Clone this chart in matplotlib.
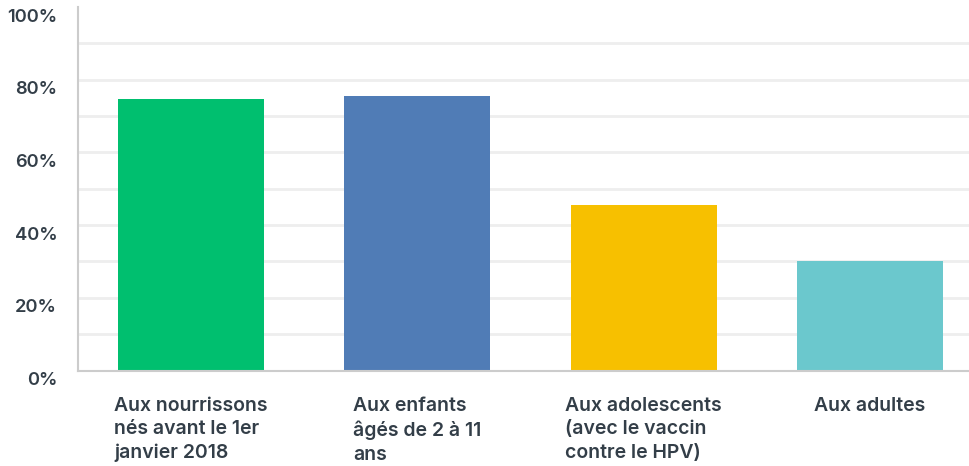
import matplotlib
matplotlib.use("Agg")
import matplotlib.pyplot as plt
from matplotlib.transforms import offset_copy

categories = ["Aux nourrissons\nnés avant le 1er\njanvier 2018",
              "Aux enfants\nâgés de 2 à 11\nans",
              "Aux adolescents\n(avec le vaccin\ncontre le HPV)",
              "Aux adultes"]
values = [74.7, 75.5, 45.5, 30.1]
colors = ["#00bf6f", "#507cb6", "#f7c000", "#6bc8cd"]
yticks = [0, 20, 40, 60, 80, 100]
ytick_labels = ["0%", "20%", "40%", "60%", "80%", "100%"]
grid_levels = [10, 20, 30, 40, 50, 60, 70, 80, 90]

plt.rcParams["font.family"] = ["Inter", "DejaVu Sans"]
text_color = "#333e48"

W, H = 969, 466
fig = plt.figure(figsize=(W/100, H/100), dpi=100)
ax = fig.add_axes([78/W, (H-370.5)/H, (983-78)/W, 363.5/H])

ax.hlines(grid_levels, -0.5, 3.5, color="#eeeeee", lw=2, zorder=0)
ax.bar(range(len(values)), values, width=0.645, color=colors, zorder=2)

ax.set_xlim(-0.5, 3.5)
ax.set_ylim(0, 100)

for s in ["top", "right"]:
    ax.spines[s].set_visible(False)
ax.spines["left"].set_color("#cccccc")
ax.spines["left"].set_linewidth(1.5)
ax.spines["bottom"].set_color("#cccccc")
ax.spines["bottom"].set_linewidth(1.5)

ax.set_yticks(yticks)
ax.set_yticklabels(ytick_labels, fontsize=13.2, fontweight="semibold", color=text_color)
ax.tick_params(axis="y", length=0, pad=15)
for lab in ax.get_yticklabels():
    lab.set_transform(offset_copy(lab.get_transform(), fig=fig, y=-8, units="dots"))

ax.set_xticks(range(len(categories)))
ax.set_xticklabels(categories, fontsize=14, fontweight="semibold", color=text_color,
                   multialignment="left", linespacing=1.38)
ax.tick_params(axis="x", length=0, pad=19)

fig.savefig("out.png", dpi=100)
